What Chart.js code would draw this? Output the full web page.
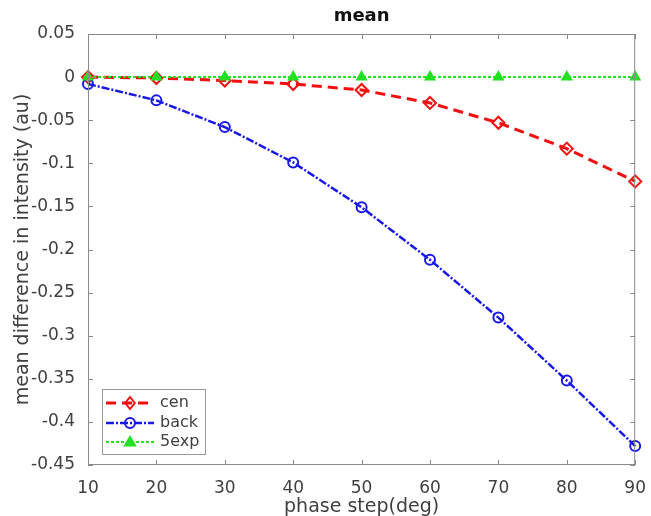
<!DOCTYPE html>
<html><head><meta charset="utf-8">
<script src="https://cdn.jsdelivr.net/npm/chart.js@4"></script>
<style>html,body{margin:0;padding:0;background:#fff}</style>
</head><body>
<canvas id="c" width="651" height="516"></canvas>
<script>
const phaseSteps = [10, 20, 30, 40, 50, 60, 70, 80, 90];
const cenValues = [0, -0.001, -0.004, -0.008, -0.015, -0.030, -0.053, -0.083, -0.121];
const backValues = [-0.008, -0.027, -0.058, -0.099, -0.151, -0.212, -0.279, -0.352, -0.428];
const fiveExpValues = [0, 0, 0, 0, 0, 0, 0, 0, 0];
const seriesNames = ['cen', 'back', '5exp'];
const xTickValues = [10, 20, 30, 40, 50, 60, 70, 80, 90];
const xTickLabels = ['10', '20', '30', '40', '50', '60', '70', '80', '90'];
const yTickValues = [0.05, 0, -0.05, -0.1, -0.15, -0.2, -0.25, -0.3, -0.35, -0.4, -0.45];
const yTickLabels = ['0.05', '0', '-0.05', '-0.1', '-0.15', '-0.2', '-0.25', '-0.3', '-0.35', '-0.4', '-0.45'];

const FONT = 'DejaVu Sans';
const RED = '#f01010', BLUE = '#1818e8', GREEN = '#22e022';
const AXIS = '#8a8a8a', TEXT = '#404040';

function pts(vals) { return phaseSteps.map((x, i) => ({x: x, y: vals[i]})); }

const styles = [
  {color: RED, dash: [10, 6], width: 3, marker: 'rectRot', fill: false, r: 6},
  {color: BLUE, dash: [8, 2, 2, 2], width: 2.5, marker: 'circle', fill: false, r: 5},
  {color: GREEN, dash: [3, 2], width: 2, marker: 'triangle', fill: true, r: 5}
];

function drawMarker(ctx, type, x, y, r, color, fill) {
  ctx.save();
  ctx.setLineDash([]);
  ctx.strokeStyle = color; ctx.fillStyle = color; ctx.lineWidth = 2;
  ctx.beginPath();
  if (type === 'circle') ctx.arc(x, y, r, 0, Math.PI * 2);
  else if (type === 'rectRot') { ctx.moveTo(x, y - r); ctx.lineTo(x + r * 0.8, y); ctx.lineTo(x, y + r); ctx.lineTo(x - r * 0.8, y); ctx.closePath(); }
  else { ctx.moveTo(x, y - r); ctx.lineTo(x + r, y + r * 0.7); ctx.lineTo(x - r, y + r * 0.7); ctx.closePath(); }
  if (fill) ctx.fill();
  ctx.stroke();
  ctx.restore();
}

const boxPlugin = {
  id: 'box',
  afterDraw(chart) {
    const {ctx, chartArea: a, scales} = chart;
    ctx.save();
    ctx.strokeStyle = AXIS; ctx.lineWidth = 1; ctx.setLineDash([]);
    ctx.strokeRect(a.left + 0.5, a.top + 0.5, a.right - a.left - 1, a.bottom - a.top - 1);
    ctx.beginPath();
    const tl = 5;
    xTickValues.forEach(v => {
      const px = Math.round(scales.x.getPixelForValue(v)) + 0.5;
      ctx.moveTo(px, a.bottom); ctx.lineTo(px, a.bottom - tl);
      ctx.moveTo(px, a.top); ctx.lineTo(px, a.top + tl);
    });
    yTickValues.forEach(v => {
      const py = Math.round(scales.y.getPixelForValue(v)) + 0.5;
      ctx.moveTo(a.left, py); ctx.lineTo(a.left + tl, py);
      ctx.moveTo(a.right, py); ctx.lineTo(a.right - tl, py);
    });
    ctx.stroke();
    // legend
    const lx = 102, ly = 389, lw = 103, lh = 65;
    ctx.fillStyle = '#fff';
    ctx.fillRect(lx, ly, lw, lh);
    ctx.strokeStyle = '#999';
    ctx.strokeRect(lx + 0.5, ly + 0.5, lw, lh);
    const rows = [403, 423, 442];
    seriesNames.forEach((name, i) => {
      const s = styles[i], y = rows[i];
      ctx.save();
      ctx.strokeStyle = s.color; ctx.lineWidth = s.width; ctx.setLineDash(s.dash);
      ctx.beginPath(); ctx.moveTo(106, y); ctx.lineTo(154, y); ctx.stroke();
      ctx.restore();
      drawMarker(ctx, s.marker, 130, y, s.r, s.color, s.fill);
      ctx.fillStyle = TEXT; ctx.font = '16px "' + FONT + '"';
      ctx.textBaseline = 'middle'; ctx.textAlign = 'left';
      ctx.fillText(name, 160, y);
    });
    ctx.restore();
  }
};

const valueSets = [cenValues, backValues, fiveExpValues];
const datasets = seriesNames.map((name, i) => {
  const s = styles[i];
  return {
    label: name,
    data: pts(valueSets[i]),
    borderColor: s.color,
    backgroundColor: s.fill ? s.color : 'rgba(0,0,0,0)',
    borderWidth: s.width,
    borderDash: s.dash,
    pointStyle: s.marker,
    pointRadius: s.r,
    pointBorderWidth: 2,
    pointBorderColor: s.color,
    pointBackgroundColor: s.fill ? s.color : 'rgba(0,0,0,0)',
    tension: 0,
    clip: false,
    order: 3 - i
  };
});

new Chart(document.getElementById('c'), {
  type: 'line',
  data: {datasets: datasets},
  options: {
    responsive: false,
    animation: false,
    devicePixelRatio: 1,
    layout: {padding: {left: 0, right: 15, top: 0, bottom: 0}},
    plugins: {
      legend: {display: false},
      tooltip: {enabled: false},
      title: {
        display: true, text: 'mean', fullSize: false, color: '#111',
        font: {family: FONT, size: 18, weight: 'bold', lineHeight: 1.2},
        padding: {top: 6, bottom: 6.4}
      }
    },
    scales: {
      x: {
        type: 'linear', min: 10, max: 90,
        afterBuildTicks: sc => { sc.ticks = xTickValues.map(v => ({value: v})); },
        afterFit: sc => { sc.height = 51; },
        grid: {display: false}, border: {display: false},
        ticks: {color: TEXT, font: {family: FONT, size: 17}, padding: 5, maxRotation: 0,
          callback: (v, i) => xTickLabels[i]},
        title: {display: true, text: 'phase step(deg)', color: TEXT,
          font: {family: FONT, size: 19, lineHeight: 1}, padding: {top: 0, bottom: -1}}
      },
      y: {
        type: 'linear', min: -0.45, max: 0.05,
        afterBuildTicks: sc => { sc.ticks = yTickValues.map(v => ({value: v})); },
        afterFit: sc => { sc.width = 88; },
        grid: {display: false}, border: {display: false},
        ticks: {color: TEXT, font: {family: FONT, size: 17}, padding: 5,
          callback: (v, i) => yTickLabels[i]},
        title: {display: true, text: 'mean difference in intensity (au)', color: TEXT,
          font: {family: FONT, size: 19, lineHeight: 1}, padding: {top: 14, bottom: 0}}
      }
    }
  },
  plugins: [boxPlugin]
});
</script>
</body></html>
